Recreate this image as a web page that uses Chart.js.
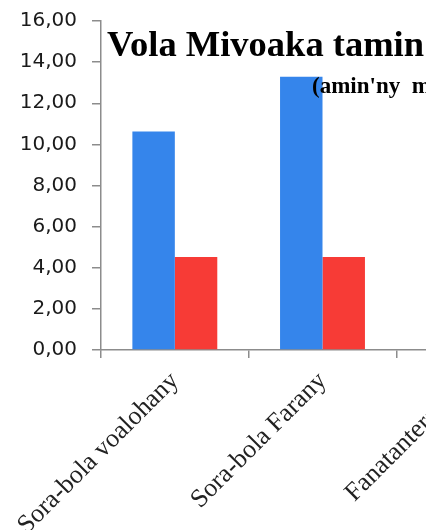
<!DOCTYPE html>
<html>
<head>
<meta charset="utf-8">
<script src="https://cdn.jsdelivr.net/npm/chart.js@4/dist/chart.umd.min.js"></script>
<style>
  html, body { margin: 0; padding: 0; background: #fff; }
  #wrap { width: 426px; height: 530px; overflow: hidden; }
</style>
</head>
<body>
<div id="wrap"><canvas id="chart" width="560" height="530"></canvas></div>
<script>
// Categories (x axis)
const categories = ["Sora-bola voalohany", "Sora-bola Farany", "Fanatanterahana"];
// Series values (third category lies outside the visible crop)
const series1 = [10.63, 13.29, null];
const series2 = [4.52, 4.52, null];
// Y axis range
const yMin = 0;
const yMax = 16;
const yStep = 2;

const titleText = "Vola Mivoaka tamin'ny";
const subTitleText = "(amin'ny  miliara Ariary)";

// Title is drawn inside the plot, over the bars
const titlePlugin = {
    id: "titleInPlot",
    afterDraw(chart) {
        const ctx = chart.ctx;
        ctx.save();
        ctx.fillStyle = "#000";
        ctx.textAlign = "left";
        ctx.textBaseline = "alphabetic";
        ctx.font = "bold 35px 'Liberation Serif'";
        // stretch a little so "Vola Mivoaka tamin" spans like the original
        const w = ctx.measureText("Vola Mivoaka tamin").width;
        const sx = 317 / w;
        ctx.save();
        ctx.translate(107, 56);
        ctx.scale(sx, 1);
        ctx.fillText(titleText, 0, 0);
        ctx.restore();
        ctx.font = "bold 23px 'Liberation Serif'";
        ctx.fillText(subTitleText, 312, 93);
        ctx.restore();
    }
};

const axisGray = "#8c8c8c";

new Chart(document.getElementById("chart"), {
    type: "bar",
    plugins: [titlePlugin],
    data: {
        labels: categories,
        datasets: [
            {
                label: "Andiany 1",
                data: series1,
                backgroundColor: "#3585eb",
                categoryPercentage: 0.575,
                barPercentage: 1,
            },
            {
                label: "Andiany 2",
                data: series2,
                backgroundColor: "#f73b36",
                categoryPercentage: 0.575,
                barPercentage: 1,
            },
        ],
    },
    options: {
        responsive: false,
        animation: false,
        layout: { padding: { top: 21, right: 16, left: 0, bottom: 0 } },
        plugins: {
            legend: { display: false },
            tooltip: { enabled: false },
        },
        scales: {
            x: {
                afterFit: (scale) => {
                    scale.height = 180;
                    scale.paddingLeft = 0;
                    scale.paddingRight = 0;
                },
                border: { display: true, color: axisGray, width: 1.5 },
                grid: {
                    offset: true,
                    drawOnChartArea: false,
                    drawTicks: true,
                    tickLength: 8,
                    color: axisGray,
                    lineWidth: 1.5,
                },
                ticks: {
                    autoSkip: false,
                    minRotation: 45,
                    maxRotation: 45,
                    padding: 8,
                    color: "#222",
                    font: { family: "'Liberation Serif'", size: 26 },
                },
            },
            y: {
                min: yMin,
                max: yMax,
                afterFit: (scale) => {
                    scale.width = 101;
                    scale.paddingTop = 0;
                    scale.paddingBottom = 0;
                },
                border: { display: true, color: axisGray, width: 1.5 },
                grid: {
                    drawOnChartArea: false,
                    drawTicks: true,
                    tickLength: 9,
                    color: axisGray,
                    lineWidth: 1.5,
                },
                ticks: {
                    stepSize: yStep,
                    padding: 15,
                    color: "#1a1a1a",
                    font: { family: "'DejaVu Sans'", size: 20 },
                    callback: (v) => v.toFixed(2).replace(".", ","),
                },
            },
        },
    },
});
</script>
</body>
</html>
